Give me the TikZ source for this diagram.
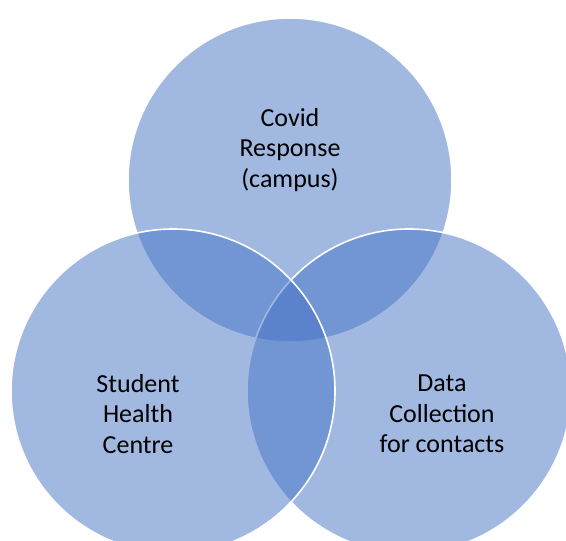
\documentclass[tikz,border=0pt]{standalone}
\usepackage{fontspec}
\setmainfont{Carlito}
\usetikzlibrary{positioning}
\definecolor{accent}{HTML}{4472C4}
\tikzset{set/.style={circle,fill=accent,fill opacity=0.5,draw=white,line width=1.6pt,minimum size=324pt,inner sep=0pt}}
\tikzset{label/.style={align=center,text=black,font=\fontsize{26}{30.7}\selectfont}}

\begin{document}
\begin{tikzpicture}[x=1pt,y=-1pt]
        \useasboundingbox (0,0) rectangle (566,541);
        \clip (0,0) rectangle (566,541);
        % the three sets, the left one last so its rim shows on top
        \node[set] (covid) at (290,180) {};
        \node[set] (data) at (409,391) {};
        \node[set] (health) at (173,391) {};
        % names of the sets
        \node[label] (covidtext) at (290,150) {Covid\\Response\\(campus)};
        \node[label] (healthtext) at (138,414) {Student\\Health\\Centre};
        \node[label] (datatext) at (442,414) {Data\\Collection\\for contacts};
    \end{tikzpicture}
\end{document}
